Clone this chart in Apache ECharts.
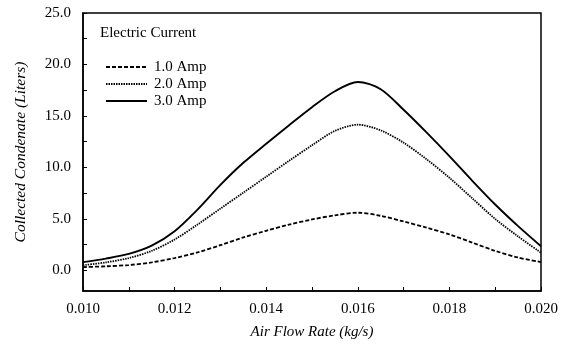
<!DOCTYPE html>
<html><head><meta charset="utf-8">
<script src="https://cdn.jsdelivr.net/npm/echarts@6/dist/echarts.min.js"></script>
<style>html,body{margin:0;padding:0;background:#fff}#c{width:564px;height:345px}</style>
</head><body><div id="c"></div>
<script>
const xs   = [0.010, 0.0105, 0.011, 0.0115, 0.012, 0.0125, 0.013, 0.0135, 0.014, 0.0145, 0.015, 0.0155, 0.016, 0.0165, 0.017, 0.0175, 0.018, 0.0185, 0.019, 0.0195, 0.020];
const amp1 = [0.32, 0.4, 0.52, 0.78, 1.2, 1.75, 2.45, 3.2, 3.85, 4.45, 4.95, 5.35, 5.6, 5.3, 4.75, 4.15, 3.5, 2.7, 1.9, 1.25, 0.81];
const amp2 = [0.5, 0.78, 1.2, 1.9, 3.0, 4.45, 6.0, 7.55, 9.1, 10.65, 12.15, 13.55, 14.15, 13.6, 12.4, 10.8, 9.0, 7.0, 5.0, 3.3, 1.72];
const amp3 = [0.8, 1.15, 1.6, 2.4, 3.8, 5.9, 8.3, 10.45, 12.3, 14.1, 15.85, 17.4, 18.3, 17.6, 15.6, 13.4, 11.1, 8.7, 6.4, 4.3, 2.35];
const names = ['1.0 Amp', '2.0 Amp', '3.0 Amp'];
const yLabels = [0, 5, 10, 15, 20, 25];
const yTicks = [0, 2.5, 5, 7.5, 10, 12.5, 15, 17.5, 20, 22.5, 25];
const xLabels = [0.010, 0.012, 0.014, 0.016, 0.018, 0.020];
const xTicks = [0.010, 0.011, 0.012, 0.013, 0.014, 0.015, 0.016, 0.017, 0.018, 0.019, 0.020];

const font = 'Liberation Serif';
const chart = echarts.init(document.getElementById('c'));
const mk = (name, arr, type, w) => ({
  name, type: 'line', smooth: 0.3, symbol: 'none', showSymbol: false, symbolSize: 0,
  data: xs.map((x, i) => [x, arr[i]]),
  lineStyle: { color: '#000', width: w, type },
  itemStyle: { color: '#000', opacity: 0 }
});
chart.setOption({
  animation: false,
  grid: { left: 83, right: 23, top: 13, bottom: 54, show: true, borderColor: '#000', borderWidth: 1.5 },
  graphic: [{ type: 'text', left: 100, top: 26, style: { text: 'Electric Current', font: '15px "Liberation Serif"', fill: '#000' } }],
  legend: {
    orient: 'vertical', left: 100, top: 54, itemWidth: 41, itemHeight: 12, itemGap: 1,
    itemStyle: { opacity: 0 },
    textStyle: { fontFamily: font, fontSize: 15, lineHeight: 16, color: '#000', padding: [0, 0, 0, 2] },
    data: names
  },
  xAxis: {
    type: 'value', min: 0.010, max: 0.020,
    name: 'Air Flow Rate (kg/s)', nameLocation: 'middle', nameGap: 34,
    nameTextStyle: { fontFamily: font, fontSize: 15, fontStyle: 'italic', color: '#000' },
    axisLine: { onZero: false, lineStyle: { color: '#000', width: 1.5 } },
    axisTick: { inside: true, length: 4, lineStyle: { color: '#000' }, customValues: xTicks },
    axisLabel: { fontFamily: font, fontSize: 15, color: '#000', margin: 11, customValues: xLabels, formatter: v => v.toFixed(3) },
    splitLine: { show: false }
  },
  yAxis: {
    type: 'value', min: -2, max: 25,
    name: 'Collected Condenate (Liters)', nameLocation: 'middle', nameGap: 54,
    nameTextStyle: { fontFamily: font, fontSize: 15.5, fontStyle: 'italic', color: '#000' },
    axisLine: { show: true, onZero: false, lineStyle: { color: '#000', width: 1.5 } },
    axisTick: { show: true, inside: true, length: 4, lineStyle: { color: '#000' }, customValues: yTicks },
    axisLabel: { fontFamily: font, fontSize: 15, color: '#000', margin: 12, customValues: yLabels, formatter: v => v.toFixed(1) },
    splitLine: { show: false }
  },
  series: [mk(names[0], amp1, [4, 2], 1.8), mk(names[1], amp2, [1.5, 1], 1.8), mk(names[2], amp3, 'solid', 1.9)]
});
</script></body></html>
